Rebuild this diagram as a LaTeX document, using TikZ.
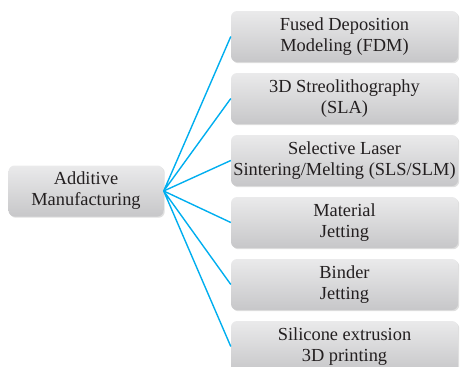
\documentclass[tikz,border=0pt]{standalone}
\usepackage{fontspec}
\setmainfont{Liberation Serif}
\usetikzlibrary{shadows}
\definecolor{linkblue}{RGB}{0,174,239}
\definecolor{boxtop}{RGB}{234,234,235}
\definecolor{boxbot}{RGB}{199,199,201}
\definecolor{inktext}{RGB}{35,31,32}
\tikzset{
  box/.style={rounded corners=6pt, top color=boxtop, bottom color=boxbot, draw=none,
    minimum height=51pt, align=center, text=inktext, inner sep=1pt,
    font=\fontsize{18.4}{21}\selectfont,
    drop shadow={shadow xshift=1.2pt, shadow yshift=-1.2pt, opacity=0.25}},
  link/.style={linkblue, line width=1.4pt}
}
\begin{document}
\begin{tikzpicture}[x=1pt, y=-1pt]
\useasboundingbox (0,0) rectangle (461,367);
\node[box, minimum width=155pt] (am) at (86,191) {Additive\\Manufacturing};
\node[box, minimum width=227pt] (fdm) at (344.5,36.5) {Fused Deposition\\Modeling (FDM)};
\node[box, minimum width=227pt] (sla) at (344.5,98.5) {3D Streolithography\\(SLA)};
\node[box, minimum width=227pt] (sls) at (344.5,160.5) {Selective Laser\\Sintering/Melting (SLS/SLM)};
\node[box, minimum width=227pt] (mj) at (344.5,222.5) {Material\\Jetting};
\node[box, minimum width=227pt] (bj) at (344.5,284.5) {Binder\\Jetting};
\node[box, minimum width=227pt] (sil) at (344.5,346.5) {Silicone extrusion\\3D printing};

\draw[link] (am.east) -- (fdm.west) (am.east) -- (sla.west);
\draw[link] (am.east) -- (sls.west) (am.east) -- (mj.west);
\draw[link] (am.east) -- (bj.west) (am.east) -- (sil.west);
\end{tikzpicture}
\end{document}
